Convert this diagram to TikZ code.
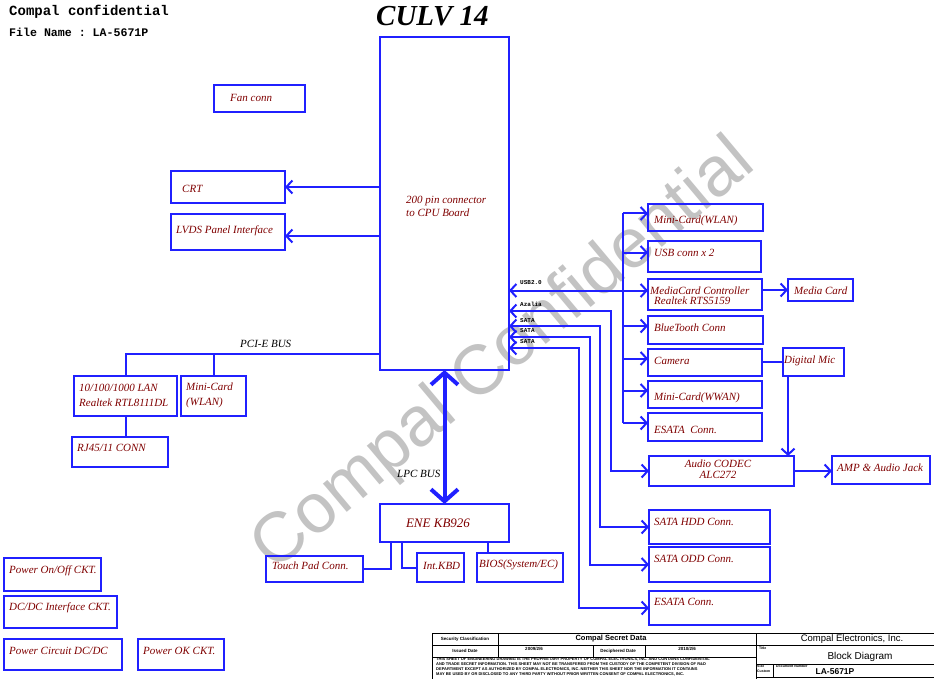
\documentclass[tikz,border=0pt]{standalone}
\usepackage{fontspec}
\setmainfont{Liberation Serif}
\setsansfont{Liberation Sans}
\setmonofont{Liberation Mono}
\usetikzlibrary{arrows.meta,calc,positioning}
\definecolor{wireblue}{RGB}{32,32,255}
\definecolor{boxtext}{RGB}{128,0,0}
\definecolor{wmgray}{RGB}{195,195,195}

\begin{document}
\begin{tikzpicture}[x=1pt, y=-1pt,
    >={Straight Barb[length=6pt,width=13pt]},
    blk/.style={draw=wireblue, line width=2pt, inner sep=0pt, outer sep=0pt, anchor=north west},
    txt/.style={text=boxtext, font=\fontsize{11}{13}\selectfont\itshape, inner sep=0pt, anchor=west, align=left},
    lbl/.style={font=\fontsize{11}{13}\selectfont\itshape, inner sep=0pt, anchor=west},
    bus/.style={font=\fontsize{6}{6}\selectfont\ttfamily\bfseries, inner sep=0pt, anchor=west},
    conn/.style={draw=wireblue, line width=2pt},
    lpc/.style={draw=wireblue, line width=4pt, {Straight Barb[length=12pt,width=27pt]}-{Straight Barb[length=12pt,width=27pt]}},
    tb/.style={draw=black, line width=0.8pt},
    tiny/.style={font=\fontsize{4.5}{5}\selectfont\sffamily\bfseries, inner sep=0pt}
]

    \path[use as bounding box, fill=white] (0,0) rectangle (934,679);

    %watermark
    \node[text=wmgray, font=\fontsize{70}{70}\selectfont\sffamily, rotate=40, anchor=base, inner sep=0pt] (wm) at (516,370) {Compal Confidential};

    %header
    \node[inner sep=0pt, anchor=west, font=\fontsize{14}{14}\selectfont\ttfamily\bfseries] (conf) at (9,12) {Compal confidential};
    \node[inner sep=0pt, anchor=west, font=\fontsize{11.6}{12}\selectfont\ttfamily\bfseries] (fname) at (9,32) {File Name : LA-5671P};
    \node[inner sep=0pt, anchor=west, font=\fontsize{29}{29}\selectfont\bfseries\itshape] (culv) at (376,16) {CULV 14};

    %boxes
    \node[blk, minimum width=129pt, minimum height=333pt] (cpu) at (380,37) {};
    \node[blk, minimum width=91pt, minimum height=27pt] (fan) at (214,85) {};
    \node[blk, minimum width=114pt, minimum height=32pt] (crt) at (171,171) {};
    \node[blk, minimum width=114pt, minimum height=36pt] (lvds) at (171,214) {};
    \node[blk, minimum width=103pt, minimum height=40pt] (lan) at (74,376) {};
    \node[blk, minimum width=65pt, minimum height=40pt] (wlana) at (181,376) {};
    \node[blk, minimum width=96pt, minimum height=30pt] (rj) at (72,437) {};
    \node[blk, minimum width=129pt, minimum height=38pt] (ene) at (380,504) {};
    \node[blk, minimum width=97pt, minimum height=26pt] (tpad) at (266,556) {};
    \node[blk, minimum width=47pt, minimum height=29pt] (kbd) at (417,553) {};
    \node[blk, minimum width=86pt, minimum height=29pt] (bios) at (477,553) {};

    \node[blk, minimum width=115pt, minimum height=27pt] (wlanb) at (648,204) {};
    \node[blk, minimum width=113pt, minimum height=31pt] (usbc) at (648,241) {};
    \node[blk, minimum width=114pt, minimum height=31pt] (mcc) at (648,279) {};
    \node[blk, minimum width=115pt, minimum height=28pt] (bt) at (648,316) {};
    \node[blk, minimum width=114pt, minimum height=27pt] (cam) at (648,349) {};
    \node[blk, minimum width=114pt, minimum height=27pt] (wwan) at (648,381) {};
    \node[blk, minimum width=114pt, minimum height=28pt] (esata) at (648,413) {};
    \node[blk, minimum width=145pt, minimum height=30pt] (codec) at (649,456) {};
    \node[blk, minimum width=121pt, minimum height=34pt] (hdd) at (649,510) {};
    \node[blk, minimum width=121pt, minimum height=35pt] (odd) at (649,547) {};
    \node[blk, minimum width=121pt, minimum height=34pt] (esatb) at (649,591) {};
    \node[blk, minimum width=65pt, minimum height=22pt] (mcard) at (788,279) {};
    \node[blk, minimum width=61pt, minimum height=28pt] (dmic) at (783,348) {};
    \node[blk, minimum width=98pt, minimum height=28pt] (amp) at (832,456) {};

    \node[blk, minimum width=97pt, minimum height=33pt] (pwra) at (4,558) {};
    \node[blk, minimum width=113pt, minimum height=32pt] (pwrb) at (4,596) {};
    \node[blk, minimum width=118pt, minimum height=31pt] (pwrc) at (4,639) {};
    \node[blk, minimum width=86pt, minimum height=31pt] (pwrok) at (138,639) {};

    %box texts
    \node[txt] (cpu-t) at (406,206) {200 pin connector\\to CPU Board};
    \node[txt] (fan-t) at (230,98) {Fan conn};
    \node[txt] (crt-t) at (182,189) {CRT};
    \node[txt] (lvds-t) at (176,231) {LVDS Panel Interface};
    \node[txt, font=\fontsize{11}{15}\selectfont\itshape] (lan-t) at (79,395) {10/100/1000 LAN\\Realtek RTL8111DL};
    \node[txt, font=\fontsize{11}{15}\selectfont\itshape] (wlana-t) at (186,395) {Mini-Card\\(WLAN)};
    \node[txt] (rj-t) at (77,448) {RJ45/11 CONN};
    \node[txt, font=\fontsize{13}{15}\selectfont\itshape, anchor=center] (ene-t) at (438,523) {ENE KB926};
    \node[txt] (tpad-t) at (272,566) {Touch Pad Conn.};
    \node[txt] (kbd-t) at (423,566) {Int.KBD};
    \node[txt] (bios-t) at (479,565) {BIOS(System/EC)};

    \node[txt] (wlanb-t) at (654,221) {Mini-Card(WLAN)};
    \node[txt] (usbc-t) at (654,253) {USB conn x 2};
    \node[txt] (mcc-ta) at (650,291) {MediaCard Controller};
    \node[txt] (mcc-tb) at (654,301) {Realtek RTS5159};
    \node[txt] (bt-t) at (654,328) {BlueTooth Conn};
    \node[txt] (cam-t) at (654,361) {Camera};
    \node[txt] (wwan-t) at (654,398) {Mini-Card(WWAN)};
    \node[txt] (esata-t) at (654,430) {ESATA\ \ Conn.};
    \node[txt, font=\fontsize{11}{11}\selectfont\itshape, anchor=center, align=center] (codec-t) at (718,469) {Audio CODEC\\ALC272};
    \node[txt] (hdd-t) at (654,522) {SATA HDD Conn.};
    \node[txt] (odd-t) at (654,559) {SATA ODD Conn.};
    \node[txt] (esatb-t) at (654,602) {ESATA Conn.};
    \node[txt] (mcard-t) at (794,291) {Media Card};
    \node[txt] (dmic-t) at (784,361) {Digital Mic};
    \node[txt] (amp-t) at (837,468) {AMP \& Audio Jack};

    \node[txt] (pwra-t) at (9,571) {Power On/Off CKT.};
    \node[txt] (pwrb-t) at (9,608) {DC/DC Interface CKT.};
    \node[txt] (pwrc-t) at (9,651) {Power Circuit DC/DC};
    \node[txt] (pwrok-t) at (143,651) {Power OK CKT.};

    %left side
    \draw[conn, ->] (cpu.west |- crt.east) -- (crt.east);
    \draw[conn, ->] (cpu.west |- 0,236) -- (lvds.east |- 0,236);

    \coordinate (pcie) at (cpu.west |- 0,354);
    \draw[conn] (lan.north) |- (pcie);
    \draw[conn] (wlana.north) -- (wlana.north |- pcie);
    \draw[conn] (lan.south) -- (lan.south |- rj.north);
    \node[lbl] (pcie-t) at (240,344) {PCI-E BUS};

    %LPC bus
    \draw[lpc] (cpu.south) -- (ene.north);
    \node[lbl] (lpc-t) at (397,474) {LPC BUS};
    \draw[conn] (ene.south -| 391,0) |- (tpad.east);
    \draw[conn] (ene.south -| 402,0) |- (kbd.west);
    \draw[conn] (ene.south -| 488,0) -- (bios.north -| 488,0);

    %USB bus
    \foreach \b in {wlanb,usbc,mcc,bt,cam,wwan,esata}
        \draw[conn, <-] ([yshift=4pt]\b.west) -- ++(-25,0);
    \draw[conn] ($(wlanb.west)+(-25,-4)$) -- ($(esata.west)+(-25,-4)$);
    \coordinate (usb) at ($(mcc.west)+(-25,-4)$);
    \draw[conn, ->] (usb) -- (usb -| cpu.east);
    \draw[conn, ->] (mcc.east |- mcard.west) -- (mcard.west);

    %audio
    \draw[conn, <->] (cpu.east |- 0,311) -| ($(codec.west)+(-38,0)$) -- (codec.west);
    \draw[conn] (cam.east |- dmic.west) -- (dmic.west);
    \coordinate (mic) at ($(dmic.south west)+(5,0)$);
    \draw[conn, ->] (mic) -- (mic |- codec.north);
    \draw[conn, ->] (codec.east) -- (codec.east -| amp.west);

    %SATA
    \foreach \y/\b/\d in {326/hdd/49, 337/odd/59, 348/esatb/70}
        \draw[conn, <->] (cpu.east |- 0,\y) -| ($(\b.west)+(-\d,0)$) -- (\b.west);

    \node[bus] (usb-t) at (520,283) {USB2.0};
    \node[bus] (aza-t) at (520,304) {Azalia};
    \node[bus] (sata-ta) at (520,321) {SATA};
    \node[bus] (sata-tb) at (520,331) {SATA};
    \node[bus] (sata-tc) at (520,342) {SATA};

    %title block
    \draw[tb] (432,679) -- (432,633) -- (934,633);
    \draw[tb] (432,645) -- (934,645);
    \draw[tb] (432,657) -- (756,657);
    \draw[tb] (756,664) -- (934,664);
    \draw[tb] (756,677) -- (934,677);
    \draw[tb] (498,633) -- (498,657);
    \draw[tb] (593,645) -- (593,657);
    \draw[tb] (645,645) -- (645,657);
    \draw[tb] (756,633) -- (756,679);
    \draw[tb] (773,664) -- (773,677);

    \node[tiny] (sec) at (465,639) {Security Classification};
    \node[tiny, font=\fontsize{7.5}{8}\selectfont\sffamily\bfseries] (secret) at (611,639) {Compal Secret Data};
    \node[tiny] (issued) at (465,651) {Issued Date};
    \node[tiny] (idate) at (534,649) {2009/2/6};
    \node[tiny] (deci) at (618,651) {Deciphered Date};
    \node[tiny] (ddate) at (687,649) {2010/2/6};
    \node[tiny, font=\fontsize{4}{5}\selectfont\sffamily\bfseries, anchor=north west, align=left] (discl) at (436,657.5)
        {THIS SHEET OF ENGINEERING DRAWING IS THE PROPRIETARY PROPERTY OF COMPAL ELECTRONICS, INC. AND CONTAINS CONFIDENTIAL\\
         AND TRADE SECRET INFORMATION. THIS SHEET MAY NOT BE TRANSFERED FROM THE CUSTODY OF THE COMPETENT DIVISION OF R\&D\\
         DEPARTMENT EXCEPT AS AUTHORIZED BY COMPAL ELECTRONICS, INC. NEITHER THIS SHEET NOR THE INFORMATION IT CONTAINS\\
         MAY BE USED BY OR DISCLOSED TO ANY THIRD PARTY WITHOUT PRIOR WRITTEN CONSENT OF COMPAL ELECTRONICS, INC.};

    \node[inner sep=0pt, font=\fontsize{9.5}{10}\selectfont\sffamily] (compal) at (852,639) {Compal Electronics, Inc.};
    \node[tiny, anchor=west, font=\fontsize{3.5}{4}\selectfont\sffamily\bfseries] (ttl) at (759,648) {Title};
    \node[inner sep=0pt, font=\fontsize{10}{11}\selectfont\sffamily] (bd) at (860,657) {Block Diagram};
    \node[tiny, anchor=north west, align=left, font=\fontsize{3.5}{4.5}\selectfont\sffamily\bfseries] (size) at (757,665) {Size\\Custom};
    \node[tiny, anchor=west, font=\fontsize{3.5}{4}\selectfont\sffamily\bfseries] (docn) at (776,666.5) {Document Number};
    \node[inner sep=0pt, font=\fontsize{8.5}{9}\selectfont\sffamily\bfseries] (docno) at (835,672) {LA-5671P};

\end{tikzpicture}
\end{document}
